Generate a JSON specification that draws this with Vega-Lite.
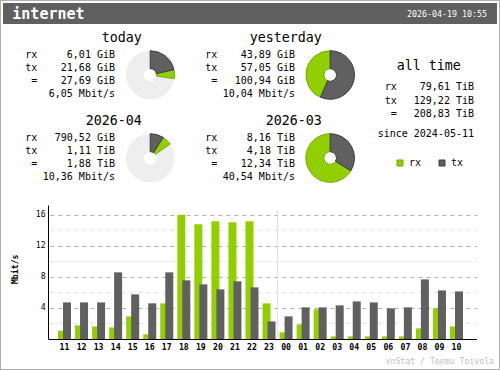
{
  "$schema": "https://vega.github.io/schema/vega-lite/v6.json",
  "padding": 1,
  "background": "#aeaeae",
  "spacing": 0,
  "bounds": "full",
  "datasets": {
    "header": [{"interface": "internet", "updated": "2026-04-19 10:55", "credit": "vnStat / Teemu Toivola"}],
    "summary": [
      {"period": "today", "line": "rx", "label": "rx", "text": "6,01 GiB", "amount": 6.01},
      {"period": "today", "line": "tx", "label": "tx", "text": "21,68 GiB", "amount": 21.68},
      {"period": "today", "line": "total", "label": "=", "text": "27,69 GiB", "amount": 27.69},
      {"period": "today", "line": "rate", "label": "", "text": "6,05 Mbit/s"},
      {"period": "yesterday", "line": "rx", "label": "rx", "text": "43,89 GiB", "amount": 43.89},
      {"period": "yesterday", "line": "tx", "label": "tx", "text": "57,05 GiB", "amount": 57.05},
      {"period": "yesterday", "line": "total", "label": "=", "text": "100,94 GiB", "amount": 100.94},
      {"period": "yesterday", "line": "rate", "label": "", "text": "10,04 Mbit/s"},
      {"period": "2026-04", "line": "rx", "label": "rx", "text": "790,52 GiB", "amount": 790.52},
      {"period": "2026-04", "line": "tx", "label": "tx", "text": "1,11 TiB", "amount": 1136.64},
      {"period": "2026-04", "line": "total", "label": "=", "text": "1,88 TiB", "amount": 1925.12},
      {"period": "2026-04", "line": "rate", "label": "", "text": "10,36 Mbit/s"},
      {"period": "2026-03", "line": "rx", "label": "rx", "text": "8,16 TiB", "amount": 8355.84},
      {"period": "2026-03", "line": "tx", "label": "tx", "text": "4,18 TiB", "amount": 4280.32},
      {"period": "2026-03", "line": "total", "label": "=", "text": "12,34 TiB", "amount": 12636.16},
      {"period": "2026-03", "line": "rate", "label": "", "text": "40,54 Mbit/s"},
      {"period": "all time", "line": "rx", "label": "rx", "text": "79,61 TiB", "amount": 81520.64},
      {"period": "all time", "line": "tx", "label": "tx", "text": "129,22 TiB", "amount": 132321.28},
      {"period": "all time", "line": "total", "label": "=", "text": "208,83 TiB", "amount": 213841.92},
      {"period": "all time", "line": "since", "label": "", "text": "since 2024-05-11"}
    ],
    "hourly": [
      {"hour": "11", "dir": "rx", "mbit": 1.07}, {"hour": "11", "dir": "tx", "mbit": 4.72},
      {"hour": "12", "dir": "rx", "mbit": 1.76}, {"hour": "12", "dir": "tx", "mbit": 4.72},
      {"hour": "13", "dir": "rx", "mbit": 1.63}, {"hour": "13", "dir": "tx", "mbit": 4.72},
      {"hour": "14", "dir": "rx", "mbit": 1.5}, {"hour": "14", "dir": "tx", "mbit": 8.6},
      {"hour": "15", "dir": "rx", "mbit": 2.92}, {"hour": "15", "dir": "tx", "mbit": 5.76},
      {"hour": "16", "dir": "rx", "mbit": 0.6}, {"hour": "16", "dir": "tx", "mbit": 4.6},
      {"hour": "17", "dir": "rx", "mbit": 4.6}, {"hour": "17", "dir": "tx", "mbit": 8.6},
      {"hour": "18", "dir": "rx", "mbit": 16.04}, {"hour": "18", "dir": "tx", "mbit": 7.57},
      {"hour": "19", "dir": "rx", "mbit": 14.8}, {"hour": "19", "dir": "tx", "mbit": 7.05},
      {"hour": "20", "dir": "rx", "mbit": 15.18}, {"hour": "20", "dir": "tx", "mbit": 6.4},
      {"hour": "21", "dir": "rx", "mbit": 15.05}, {"hour": "21", "dir": "tx", "mbit": 7.44},
      {"hour": "22", "dir": "rx", "mbit": 15.18}, {"hour": "22", "dir": "tx", "mbit": 6.66},
      {"hour": "23", "dir": "rx", "mbit": 4.6}, {"hour": "23", "dir": "tx", "mbit": 2.27},
      {"hour": "00", "dir": "rx", "mbit": 0.86}, {"hour": "00", "dir": "tx", "mbit": 2.92},
      {"hour": "01", "dir": "rx", "mbit": 1.89}, {"hour": "01", "dir": "tx", "mbit": 4.08},
      {"hour": "02", "dir": "rx", "mbit": 3.82}, {"hour": "02", "dir": "tx", "mbit": 4.08},
      {"hour": "03", "dir": "rx", "mbit": 0.34}, {"hour": "03", "dir": "tx", "mbit": 4.34},
      {"hour": "04", "dir": "rx", "mbit": 0.34}, {"hour": "04", "dir": "tx", "mbit": 4.85},
      {"hour": "05", "dir": "rx", "mbit": 0.34}, {"hour": "05", "dir": "tx", "mbit": 4.72},
      {"hour": "06", "dir": "rx", "mbit": 0.34}, {"hour": "06", "dir": "tx", "mbit": 3.95},
      {"hour": "07", "dir": "rx", "mbit": 0.34}, {"hour": "07", "dir": "tx", "mbit": 4.08},
      {"hour": "08", "dir": "rx", "mbit": 1.37}, {"hour": "08", "dir": "tx", "mbit": 7.69},
      {"hour": "09", "dir": "rx", "mbit": 3.95}, {"hour": "09", "dir": "tx", "mbit": 6.27},
      {"hour": "10", "dir": "rx", "mbit": 1.63}, {"hour": "10", "dir": "tx", "mbit": 6.14}
    ]
  },
  "vconcat": [
    {
      "width": 498, "height": 25,
      "data": {"name": "header"},
      "layer": [
        {"mark": {"type": "rect", "fill": "#606060", "stroke": "white", "strokeWidth": 4, "clip": true}, "encoding": {}},
        {"mark": {"type": "text", "align": "left", "baseline": "alphabetic", "fontSize": 15, "fontWeight": "bold", "fill": "white", "dx": -237.7, "dy": 5.5}, "encoding": {"text": {"field": "interface"}}},
        {"mark": {"type": "text", "align": "right", "baseline": "alphabetic", "fontSize": 8.3, "fill": "white", "dx": 237, "dy": 3.8}, "encoding": {"text": {"field": "updated"}}}
      ]
    },
    {
      "spacing": 0, "bounds": "full",
      "hconcat": [
        {
          "spacing": 0, "bounds": "full",
          "vconcat": [
            {
              "spacing": 0, "bounds": "flush",
              "hconcat": [
                {
                  "width": 180, "height": 83,
                  "data": {"name": "summary"},
                  "transform": [{"filter": "datum.period === 'today'"}],
                  "layer": [
                    {"transform": [{"filter": "datum.line === 'rx'"}], "mark": {"type": "text", "align": "right", "baseline": "alphabetic", "fontSize": 13.3, "dx": 50.7, "dy": -25.5}, "encoding": {"text": {"field": "period"}}},
                    {"mark": {"type": "text", "align": "right", "baseline": "alphabetic", "fontSize": 10, "dx": -53.7}, "encoding": {"y": {"field": "line", "type": "ordinal", "scale": {"type": "point", "domain": ["rx", "tx", "total", "rate"], "range": [31.7, 70.6], "padding": 0}, "axis": null}, "text": {"field": "label"}}},
                    {"mark": {"type": "text", "align": "right", "baseline": "alphabetic", "fontSize": 10, "dx": 24}, "encoding": {"y": {"field": "line", "type": "ordinal", "scale": {"type": "point", "domain": ["rx", "tx", "total", "rate"], "range": [31.7, 70.6], "padding": 0}, "axis": null}, "text": {"field": "text"}}},
                    {"transform": [{"filter": "datum.line === 'rx'"}], "mark": {"type": "arc", "innerRadius": 6.3, "outerRadius": 24.3, "fill": "#eeeeee", "xOffset": 59.2, "yOffset": 7.5}, "encoding": {}},
                    {"transform": [{"filter": "datum.line === 'rx' || datum.line === 'tx'"}], "mark": {"type": "arc", "innerRadius": 6.3, "outerRadius": 24.3, "strokeWidth": 1, "xOffset": 59.2, "yOffset": 7.5},
                     "encoding": {
                       "theta": {"field": "amount", "type": "quantitative", "stack": true, "scale": {"domain": [0, 100.94]}},
                       "order": {"field": "line", "sort": "descending"},
                       "color": {"field": "line", "type": "nominal", "scale": {"domain": ["rx", "tx"], "range": ["#92cf00", "#606060"]}},
                       "stroke": {"field": "line", "type": "nominal", "scale": {"domain": ["rx", "tx"], "range": ["#6fac00", "#3d3d3d"]}, "legend": null}
                     }}
                  ]
                },
                {
                  "width": 180, "height": 83,
                  "data": {"name": "summary"},
                  "transform": [{"filter": "datum.period === 'yesterday'"}],
                  "layer": [
                    {"transform": [{"filter": "datum.line === 'rx'"}], "mark": {"type": "text", "align": "right", "baseline": "alphabetic", "fontSize": 13.3, "dx": 50.7, "dy": -25.5}, "encoding": {"text": {"field": "period"}}},
                    {"mark": {"type": "text", "align": "right", "baseline": "alphabetic", "fontSize": 10, "dx": -53.7}, "encoding": {"y": {"field": "line", "type": "ordinal", "scale": {"type": "point", "domain": ["rx", "tx", "total", "rate"], "range": [31.7, 70.6], "padding": 0}, "axis": null}, "text": {"field": "label"}}},
                    {"mark": {"type": "text", "align": "right", "baseline": "alphabetic", "fontSize": 10, "dx": 24}, "encoding": {"y": {"field": "line", "type": "ordinal", "scale": {"type": "point", "domain": ["rx", "tx", "total", "rate"], "range": [31.7, 70.6], "padding": 0}, "axis": null}, "text": {"field": "text"}}},
                    {"transform": [{"filter": "datum.line === 'rx'"}], "mark": {"type": "arc", "innerRadius": 6.3, "outerRadius": 24.3, "fill": "#eeeeee", "xOffset": 59.2, "yOffset": 7.5}, "encoding": {}},
                    {"transform": [{"filter": "datum.line === 'rx' || datum.line === 'tx'"}], "mark": {"type": "arc", "innerRadius": 6.3, "outerRadius": 24.3, "strokeWidth": 1, "xOffset": 59.2, "yOffset": 7.5},
                     "encoding": {
                       "theta": {"field": "amount", "type": "quantitative", "stack": true, "scale": {"domain": [0, 100.94]}},
                       "order": {"field": "line", "sort": "descending"},
                       "color": {"field": "line", "type": "nominal", "scale": {"domain": ["rx", "tx"], "range": ["#92cf00", "#606060"]}},
                       "stroke": {"field": "line", "type": "nominal", "scale": {"domain": ["rx", "tx"], "range": ["#6fac00", "#3d3d3d"]}, "legend": null}
                     }}
                  ]
                }
              ]
            },
            {
              "spacing": 0, "bounds": "flush",
              "hconcat": [
                {
                  "width": 180, "height": 83,
                  "data": {"name": "summary"},
                  "transform": [{"filter": "datum.period === '2026-04'"}],
                  "layer": [
                    {"transform": [{"filter": "datum.line === 'rx'"}], "mark": {"type": "text", "align": "right", "baseline": "alphabetic", "fontSize": 13.3, "dx": 50.7, "dy": -25.5}, "encoding": {"text": {"field": "period"}}},
                    {"mark": {"type": "text", "align": "right", "baseline": "alphabetic", "fontSize": 10, "dx": -53.7}, "encoding": {"y": {"field": "line", "type": "ordinal", "scale": {"type": "point", "domain": ["rx", "tx", "total", "rate"], "range": [31.7, 70.6], "padding": 0}, "axis": null}, "text": {"field": "label"}}},
                    {"mark": {"type": "text", "align": "right", "baseline": "alphabetic", "fontSize": 10, "dx": 24}, "encoding": {"y": {"field": "line", "type": "ordinal", "scale": {"type": "point", "domain": ["rx", "tx", "total", "rate"], "range": [31.7, 70.6], "padding": 0}, "axis": null}, "text": {"field": "text"}}},
                    {"transform": [{"filter": "datum.line === 'rx'"}], "mark": {"type": "arc", "innerRadius": 6.3, "outerRadius": 24.3, "fill": "#eeeeee", "xOffset": 59.2, "yOffset": 7.5}, "encoding": {}},
                    {"transform": [{"filter": "datum.line === 'rx' || datum.line === 'tx'"}], "mark": {"type": "arc", "innerRadius": 6.3, "outerRadius": 24.3, "strokeWidth": 1, "xOffset": 59.2, "yOffset": 7.5},
                     "encoding": {
                       "theta": {"field": "amount", "type": "quantitative", "stack": true, "scale": {"domain": [0, 12636.16]}},
                       "order": {"field": "line", "sort": "descending"},
                       "color": {"field": "line", "type": "nominal", "scale": {"domain": ["rx", "tx"], "range": ["#92cf00", "#606060"]}},
                       "stroke": {"field": "line", "type": "nominal", "scale": {"domain": ["rx", "tx"], "range": ["#6fac00", "#3d3d3d"]}, "legend": null}
                     }}
                  ]
                },
                {
                  "width": 180, "height": 83,
                  "data": {"name": "summary"},
                  "transform": [{"filter": "datum.period === '2026-03'"}],
                  "layer": [
                    {"transform": [{"filter": "datum.line === 'rx'"}], "mark": {"type": "text", "align": "right", "baseline": "alphabetic", "fontSize": 13.3, "dx": 50.7, "dy": -25.5}, "encoding": {"text": {"field": "period"}}},
                    {"mark": {"type": "text", "align": "right", "baseline": "alphabetic", "fontSize": 10, "dx": -53.7}, "encoding": {"y": {"field": "line", "type": "ordinal", "scale": {"type": "point", "domain": ["rx", "tx", "total", "rate"], "range": [31.7, 70.6], "padding": 0}, "axis": null}, "text": {"field": "label"}}},
                    {"mark": {"type": "text", "align": "right", "baseline": "alphabetic", "fontSize": 10, "dx": 24}, "encoding": {"y": {"field": "line", "type": "ordinal", "scale": {"type": "point", "domain": ["rx", "tx", "total", "rate"], "range": [31.7, 70.6], "padding": 0}, "axis": null}, "text": {"field": "text"}}},
                    {"transform": [{"filter": "datum.line === 'rx'"}], "mark": {"type": "arc", "innerRadius": 6.3, "outerRadius": 24.3, "fill": "#eeeeee", "xOffset": 59.2, "yOffset": 7.5}, "encoding": {}},
                    {"transform": [{"filter": "datum.line === 'rx' || datum.line === 'tx'"}], "mark": {"type": "arc", "innerRadius": 6.3, "outerRadius": 24.3, "strokeWidth": 1, "xOffset": 59.2, "yOffset": 7.5},
                     "encoding": {
                       "theta": {"field": "amount", "type": "quantitative", "stack": true, "scale": {"domain": [0, 12636.16]}},
                       "order": {"field": "line", "sort": "descending"},
                       "color": {"field": "line", "type": "nominal", "scale": {"domain": ["rx", "tx"], "range": ["#92cf00", "#606060"]}},
                       "stroke": {"field": "line", "type": "nominal", "scale": {"domain": ["rx", "tx"], "range": ["#6fac00", "#3d3d3d"]}, "legend": null}
                     }}
                  ]
                }
              ]
            }
          ]
        },
        {
          "width": 138, "height": 166,
          "data": {"name": "summary"},
          "transform": [{"filter": "datum.period === 'all time'"}],
          "layer": [
            {"transform": [{"filter": "datum.line === 'rx'"}], "mark": {"type": "text", "align": "center", "baseline": "alphabetic", "fontSize": 13.3, "dx": -1.2, "dy": -39}, "encoding": {"text": {"field": "period"}}},
            {"transform": [{"filter": "datum.line !== 'since'"}], "mark": {"type": "text", "align": "right", "baseline": "alphabetic", "fontSize": 10, "dx": -33.3}, "encoding": {"y": {"field": "line", "type": "ordinal", "scale": {"type": "point", "domain": ["rx", "tx", "total"], "range": [64.4, 90.7], "padding": 0}, "axis": null}, "text": {"field": "label"}}},
            {"transform": [{"filter": "datum.line !== 'since'"}], "mark": {"type": "text", "align": "right", "baseline": "alphabetic", "fontSize": 10, "dx": 44}, "encoding": {"y": {"field": "line", "type": "ordinal", "scale": {"type": "point", "domain": ["rx", "tx", "total"], "range": [64.4, 90.7], "padding": 0}, "axis": null}, "text": {"field": "text"}}},
            {"transform": [{"filter": "datum.line === 'since'"}], "mark": {"type": "text", "align": "right", "baseline": "alphabetic", "fontSize": 10, "dx": 44, "dy": 28.3}, "encoding": {"text": {"field": "text"}}}
          ]
        }
      ]
    },
    {
      "spacing": 0, "bounds": "flush",
      "hconcat": [
        {"width": 47, "height": 177, "data": {"name": "header"},
         "layer": [
           {"mark": {"type": "rect", "fill": "white"}, "encoding": {}}
         ]},
        {
          "width": 429, "height": 177,
          "data": {"name": "hourly"},
          "encoding": {
            "x": {"field": "hour", "type": "ordinal",
                  "sort": ["11","12","13","14","15","16","17","18","19","20","21","22","23","00","01","02","03","04","05","06","07","08","09","10"],
                  "scale": {"paddingInner": 0, "paddingOuter": 0.5856, "align": 0.4},
                  "axis": {"title": null, "orient": "bottom", "offset": -30, "ticks": false, "domainColor": "black", "labelFontSize": 8.2, "labelFontWeight": "bold", "labelColor": "black", "labelPadding": 4.5, "labelAngle": 0, "grid": false}},
            "y": {"field": "mbit", "type": "quantitative",
                  "scale": {"domain": [0, 17.29], "range": [147, 13], "nice": false},
                  "axis": {"title": "Mbit/s", "values": [2, 4, 6, 8, 10, 12, 14, 16], "labelExpr": "datum.value % 4 === 0 ? datum.label : ''", "labelOverlap": false, "ticks": false, "domainColor": "black", "labelFontSize": 8.2, "labelColor": "black", "labelPadding": 2.8, "grid": true, "gridColor": {"condition": {"test": "datum.value % 4 === 0", "value": "#b0b0b0"}, "value": "#e2e2e2"}, "gridDash": [4, 4], "gridDashOffset": -2, "titleFontSize": 8.2, "titleFontWeight": "bold", "titleColor": "black", "titleAngle": -90, "titleX": -30.7, "titleY": 76.8, "titleAlign": "center", "titleBaseline": "alphabetic"}}
          },
          "layer": [
            {"transform": [{"filter": "datum.hour === '00' && datum.dir === 'rx'"}], "mark": {"type": "rule", "color": "#e0e0e0", "strokeWidth": 1},
             "encoding": {"x": {"field": "hour", "type": "ordinal", "bandPosition": 0, "sort": ["11","12","13","14","15","16","17","18","19","20","21","22","23","00","01","02","03","04","05","06","07","08","09","10"]}, "y": {"datum": 16.6}, "y2": {"datum": 0}}},
            {"transform": [{"filter": "datum.dir === 'rx'"}], "mark": {"type": "bar", "width": 8, "xOffset": -2.5},
             "encoding": {"color": {"field": "dir", "type": "nominal", "scale": {"domain": ["rx", "tx"], "range": ["#92cf00", "#606060"]},
                "legend": {"title": null, "orient": "none", "legendX": 394, "legendY": 157, "direction": "horizontal", "symbolType": "square", "symbolSize": 36, "symbolStrokeColor": "black", "symbolStrokeWidth": 1, "labelFontSize": 10, "labelColor": "black", "labelOffset": 4, "columnPadding": 15, "padding": 0,
                  "encode": {"symbols": {"update": {"stroke": {"value": "black"}, "strokeWidth": {"value": 1}}}}}}}},
            {"transform": [{"filter": "datum.dir === 'tx'"}], "mark": {"type": "bar", "width": 8, "xOffset": 2.5},
             "encoding": {"color": {"field": "dir", "type": "nominal", "scale": {"domain": ["rx", "tx"], "range": ["#92cf00", "#606060"]}}}}
          ]
        },
        {"width": 22, "height": 177, "data": {"name": "header"},
         "layer": [
           {"mark": {"type": "rect", "fill": "white"}, "encoding": {}},
           {"mark": {"type": "text", "align": "right", "baseline": "alphabetic", "fontSize": 8.2, "fill": "#c0c0c0", "dx": 6, "dy": 83.5}, "encoding": {"text": {"field": "credit"}}}
         ]}
      ]
    }
  ],
  "config": {
    "view": {"stroke": null, "fill": "white"},
    "font": "DejaVu Sans Mono",
    "text": {"font": "DejaVu Sans Mono", "color": "black"},
    "axis": {"labelFont": "DejaVu Sans Mono", "titleFont": "DejaVu Sans Mono"},
    "legend": {"labelFont": "DejaVu Sans Mono"}
  }
}
